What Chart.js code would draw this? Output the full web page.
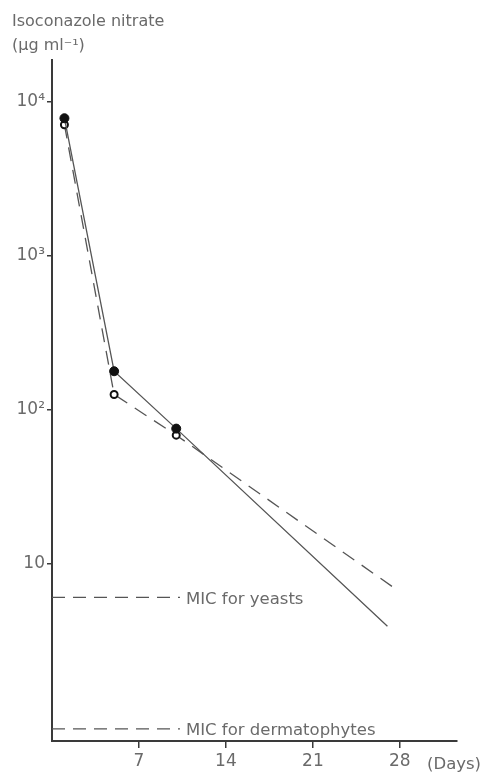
<!DOCTYPE html>
<html>
<head>
<meta charset="utf-8">
<script src="https://cdn.jsdelivr.net/npm/chart.js@4"></script>
<style>
  html, body { margin: 0; padding: 0; background: #fff; }
  #wrap { width: 481px; height: 774px; }
</style>
</head>
<body>
<div id="wrap"><canvas id="chart"></canvas></div>
<script>
// values (days, µg/ml)
const solidDays = [1, 5, 10, 27];
const solidValues = [7800, 177, 75, 3.9];
const dashedDays = [1, 5, 10, 27.9];
const dashedValues = [7080, 125, 68, 6.6];
const solidRadius = [4.5, 4.5, 4.5, 0];
const dashedRadius = [3.5, 3.5, 3.5, 0];

const micLabels = ['MIC for yeasts', 'MIC for dermatophytes'];
const micValues = [6, 0.84];
const micDays = [0, 10.3];

const yTicks = [10, 100, 1000, 10000];
const yTickLabels = ['10', '10²', '10³', '10⁴'];
const xTicks = [7, 14, 21, 28];

const ink = '#3a3a3a';
const textGrey = '#6a6a6a';
const font = '"DejaVu Sans", sans-serif';

const pts = (xs, ys) => xs.map((x, i) => ({ x: x, y: ys[i] }));

const micSets = micValues.map((v, i) => ({
  label: micLabels[i],
  data: pts(micDays, [v, v]),
  borderColor: '#555',
  borderWidth: 1.2,
  borderDash: [13, 8],
  pointRadius: 0,
  fill: false
}));

const textPlugin = {
  id: 'textPlugin',
  afterDraw(chart) {
    const ctx = chart.ctx;
    const x = chart.scales.x, y = chart.scales.y;
    ctx.save();
    ctx.fillStyle = textGrey;
    ctx.font = '16px ' + font;
    ctx.textBaseline = 'middle';
    ctx.textAlign = 'left';
    ctx.fillText('Isoconazole nitrate', 12, 22);
    ctx.fillText('(µg ml⁻¹)', 12, 46);
    ctx.font = '16.5px ' + font;
    micValues.forEach((v, i) => {
      ctx.fillText(micLabels[i], x.getPixelForValue(micDays[1]) + 6, y.getPixelForValue(v) + 2);
    });
    ctx.fillText('(Days)', 427, 765);
    ctx.restore();
  }
};

new Chart(document.getElementById('chart'), {
  type: 'line',
  data: {
    datasets: [
      {
        label: 'solid',
        data: pts(solidDays, solidValues),
        borderColor: '#555',
        borderWidth: 1.3,
        pointRadius: solidRadius,
        pointBackgroundColor: '#111',
        pointBorderColor: '#111',
        pointBorderWidth: 1
      },
      {
        label: 'dashed',
        data: pts(dashedDays, dashedValues),
        borderColor: '#555',
        borderWidth: 1.3,
        borderDash: [14, 9],
        pointRadius: dashedRadius,
        pointBackgroundColor: '#fff',
        pointBorderColor: '#111',
        pointBorderWidth: 2
      },
      ...micSets
    ]
  },
  options: {
    responsive: true,
    maintainAspectRatio: false,
    animation: false,
    layout: { padding: { top: 60, right: 24, left: 0, bottom: 0 } },
    plugins: { legend: { display: false }, tooltip: { enabled: false } },
    scales: {
      x: {
        type: 'linear',
        min: 0,
        max: 32.6,
        afterBuildTicks: s => { s.ticks = xTicks.map(v => ({ value: v })); },
        afterFit: s => { s.height = 33; },
        border: { color: ink, width: 2 },
        grid: { drawOnChartArea: false, drawTicks: true, tickLength: 7, color: ink, lineWidth: 1.5 },
        ticks: { color: textGrey, font: { family: font, size: 17 }, padding: 3, maxRotation: 0 }
      },
      y: {
        type: 'logarithmic',
        min: 0.724,
        max: 18640,
        afterBuildTicks: s => { s.ticks = yTicks.map(v => ({ value: v })); },
        afterFit: s => { s.width = 52; },
        border: { color: ink, width: 2 },
        grid: { drawOnChartArea: false, drawTicks: true, tickLength: 5, color: ink, lineWidth: 1.5 },
        ticks: {
          color: textGrey,
          font: { family: font, size: 17 },
          padding: 2,
          callback: v => yTickLabels[yTicks.indexOf(v)] || ''
        }
      }
    }
  },
  plugins: [textPlugin]
});
</script>
</body>
</html>
